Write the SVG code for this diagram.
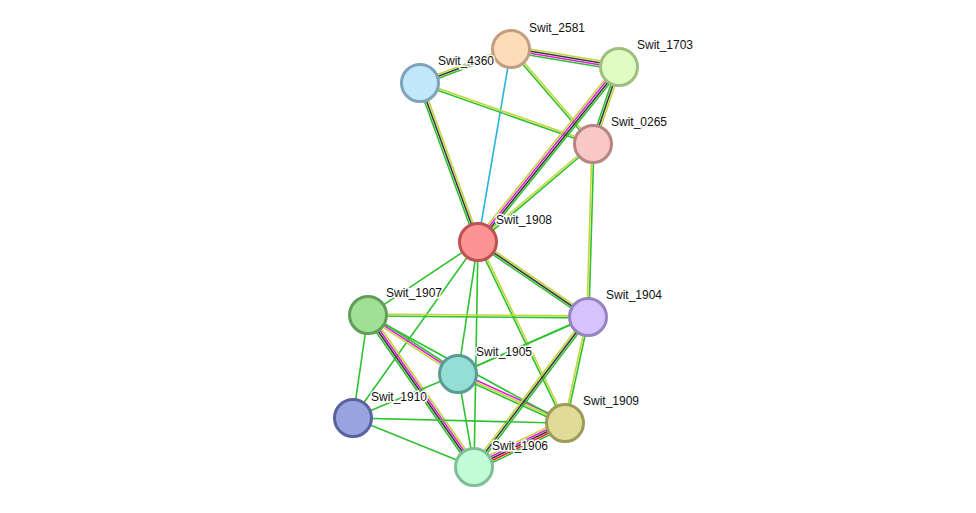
<svg xmlns="http://www.w3.org/2000/svg" width="976" height="513" viewBox="0 0 976 513">
<style>
line{stroke-width:1.6;fill:none}
.g{stroke:#2fc12f}.y{stroke:#c2d63a}.k{stroke:#3a3a3a}.m{stroke:#e01ee0}.r{stroke:#f22}.c{stroke:#28b4d8}
circle{stroke-width:3}
text{font-family:"Liberation Sans",Arial,sans-serif;font-size:12px;fill:#111;stroke:#fff;stroke-width:3;paint-order:stroke}
</style>
<rect width="976" height="513" fill="#fff"/>
<g id="edges">
<g transform="translate(511 49) rotate(9.46)"><line class="y" x1="0" y1="-3" x2="109.5" y2="-3"/><line class="k" x1="0" y1="-1" x2="109.5" y2="-1"/><line class="m" x1="0" y1="1" x2="109.5" y2="1"/><line class="g" x1="0" y1="3" x2="109.5" y2="3"/></g>
<g transform="translate(511 49) rotate(159.5)"><line class="g" x1="0" y1="-2" x2="97.1" y2="-2"/><line class="k" x1="0" y1="0" x2="97.1" y2="0"/><line class="y" x1="0" y1="2" x2="97.1" y2="2"/></g>
<g transform="translate(511 49) rotate(99.7)"><line class="c" x1="0" y1="0" x2="195.8" y2="0"/></g>
<g transform="translate(511 49) rotate(49.2)"><line class="y" x1="0" y1="-1" x2="125.5" y2="-1"/><line class="g" x1="0" y1="1" x2="125.5" y2="1"/></g>
<g transform="translate(420 83) rotate(70)"><line class="y" x1="0" y1="-2" x2="169.2" y2="-2"/><line class="k" x1="0" y1="0" x2="169.2" y2="0"/><line class="g" x1="0" y1="2" x2="169.2" y2="2"/></g>
<g transform="translate(420 83) rotate(19.4)"><line class="y" x1="0" y1="-1" x2="183.4" y2="-1"/><line class="g" x1="0" y1="1" x2="183.4" y2="1"/></g>
<g transform="translate(619 67) rotate(128.9)"><line class="g" x1="0" y1="-3" x2="224.7" y2="-3"/><line class="k" x1="0" y1="-1" x2="224.7" y2="-1"/><line class="m" x1="0" y1="1" x2="224.7" y2="1"/><line class="y" x1="0" y1="3" x2="224.7" y2="3"/></g>
<g transform="translate(619 67) rotate(108.7)"><line class="y" x1="0" y1="-2" x2="81.3" y2="-2"/><line class="k" x1="0" y1="0" x2="81.3" y2="0"/><line class="g" x1="0" y1="2" x2="81.3" y2="2"/></g>
<g transform="translate(593 144) rotate(139.6)"><line class="g" x1="0" y1="-1" x2="151.1" y2="-1"/><line class="y" x1="0" y1="1" x2="151.1" y2="1"/></g>
<g transform="translate(593 144) rotate(91.7)"><line class="g" x1="0" y1="-1" x2="173.1" y2="-1"/><line class="y" x1="0" y1="1" x2="173.1" y2="1"/></g>
<g transform="translate(478 242) rotate(34.3)"><line class="y" x1="0" y1="-2" x2="133.1" y2="-2"/><line class="k" x1="0" y1="0" x2="133.1" y2="0"/><line class="g" x1="0" y1="2" x2="133.1" y2="2"/></g>
<g transform="translate(478 242) rotate(146.4)"><line class="g" x1="0" y1="0" x2="132" y2="0"/></g>
<g transform="translate(478 242) rotate(125.4)"><line class="g" x1="0" y1="0" x2="215.9" y2="0"/></g>
<g transform="translate(478 242) rotate(98.6)"><line class="g" x1="0" y1="0" x2="133.5" y2="0"/></g>
<g transform="translate(478 242) rotate(91)"><line class="g" x1="0" y1="0" x2="225" y2="0"/></g>
<g transform="translate(478 242) rotate(64.3)"><line class="y" x1="0" y1="-1" x2="200.8" y2="-1"/><line class="g" x1="0" y1="1" x2="200.8" y2="1"/></g>
<g transform="translate(368 315) rotate(0.5)"><line class="y" x1="0" y1="-1" x2="220" y2="-1"/><line class="g" x1="0" y1="1" x2="220" y2="1"/></g>
<g transform="translate(368 315) rotate(33.2)"><line class="g" x1="0" y1="-2" x2="107.6" y2="-2"/><line class="m" x1="0" y1="0" x2="107.6" y2="0"/><line class="y" x1="0" y1="2" x2="107.6" y2="2"/></g>
<g transform="translate(458 374) rotate(24.6)"><line class="m" x1="0" y1="-2" x2="117.7" y2="-2"/><line class="y" x1="0" y1="0" x2="117.7" y2="0"/><line class="g" x1="0" y1="2" x2="117.7" y2="2"/></g>
<g transform="translate(368 315) rotate(28.7)"><line class="g" x1="0" y1="0" x2="224.7" y2="0"/></g>
<g transform="translate(368 315) rotate(98.3)"><line class="g" x1="0" y1="0" x2="104.1" y2="0"/></g>
<g transform="translate(368 315) rotate(55.1)"><line class="y" x1="0" y1="-3" x2="185.3" y2="-3"/><line class="m" x1="0" y1="-1" x2="185.3" y2="-1"/><line class="k" x1="0" y1="1" x2="185.3" y2="1"/><line class="g" x1="0" y1="3" x2="185.3" y2="3"/></g>
<g transform="translate(588 317) rotate(156.3)"><line class="g" x1="0" y1="0" x2="141.9" y2="0" style="stroke-width:2"/></g>
<g transform="translate(588 317) rotate(127.2)"><line class="g" x1="0" y1="-2" x2="188.4" y2="-2"/><line class="k" x1="0" y1="0" x2="188.4" y2="0"/><line class="y" x1="0" y1="2" x2="188.4" y2="2"/></g>
<g transform="translate(588 317) rotate(102.2)"><line class="g" x1="0" y1="-1" x2="108.5" y2="-1"/><line class="y" x1="0" y1="1" x2="108.5" y2="1"/></g>
<g transform="translate(458 374) rotate(157.3)"><line class="g" x1="0" y1="0" x2="113.8" y2="0"/></g>
<g transform="translate(458 374) rotate(80.2)"><line class="g" x1="0" y1="0" x2="94.4" y2="0"/></g>
<g transform="translate(353 418) rotate(1.4)"><line class="g" x1="0" y1="0" x2="212.1" y2="0"/></g>
<g transform="translate(353 418) rotate(22)"><line class="g" x1="0" y1="0" x2="130.5" y2="0"/></g>
<g transform="translate(565 423) rotate(154.2)"><line class="g" x1="0" y1="-4" x2="101.1" y2="-4"/><line class="r" x1="0" y1="-2" x2="101.1" y2="-2"/><line class="k" x1="0" y1="0" x2="101.1" y2="0"/><line class="m" x1="0" y1="2" x2="101.1" y2="2"/><line class="y" x1="0" y1="4" x2="101.1" y2="4"/></g>
</g>
<g id="n2581"><circle cx="511" cy="49" r="18.5" fill="#fddcbc" stroke="#c29e7e"/><text x="529" y="32">Swit_2581</text></g>
<g id="n1703"><circle cx="619" cy="67" r="18.5" fill="#e0fcc2" stroke="#9fbf7e"/><text x="637" y="49">Swit_1703</text></g>
<g id="n4360"><circle cx="420" cy="83" r="18.5" fill="#c2e8fc" stroke="#7ea3bb"/><text x="438" y="65">Swit_4360</text></g>
<g id="n0265"><circle cx="593" cy="144" r="18.5" fill="#f8c8c8" stroke="#b88484"/><text x="611" y="126">Swit_0265</text></g>
<g id="n1908"><circle cx="478" cy="242" r="18.5" fill="#fc9494" stroke="#bd5252"/><text x="496" y="224">Swit_1908</text></g>
<g id="n1907"><circle cx="368" cy="315" r="18.5" fill="#a0e094" stroke="#629e5a"/><text x="386" y="297">Swit_1907</text></g>
<g id="n1904"><circle cx="588" cy="317" r="18.5" fill="#d6c2fc" stroke="#9684c2"/><text x="606" y="299">Swit_1904</text></g>
<g id="n1905"><circle cx="458" cy="374" r="18.5" fill="#94ded6" stroke="#5a9c94"/><text x="476" y="356">Swit_1905</text></g>
<g id="n1910"><circle cx="353" cy="418" r="18.5" fill="#98a4e0" stroke="#5a62a0"/><text x="371" y="401">Swit_1910</text></g>
<g id="n1909"><circle cx="565" cy="423" r="18.5" fill="#e0dc98" stroke="#9e9a5a"/><text x="583" y="405">Swit_1909</text></g>
<g id="n1906"><circle cx="474" cy="467" r="18.5" fill="#c2fcd6" stroke="#7ebf96"/><text x="492" y="450">Swit_1906</text></g>
</svg>
